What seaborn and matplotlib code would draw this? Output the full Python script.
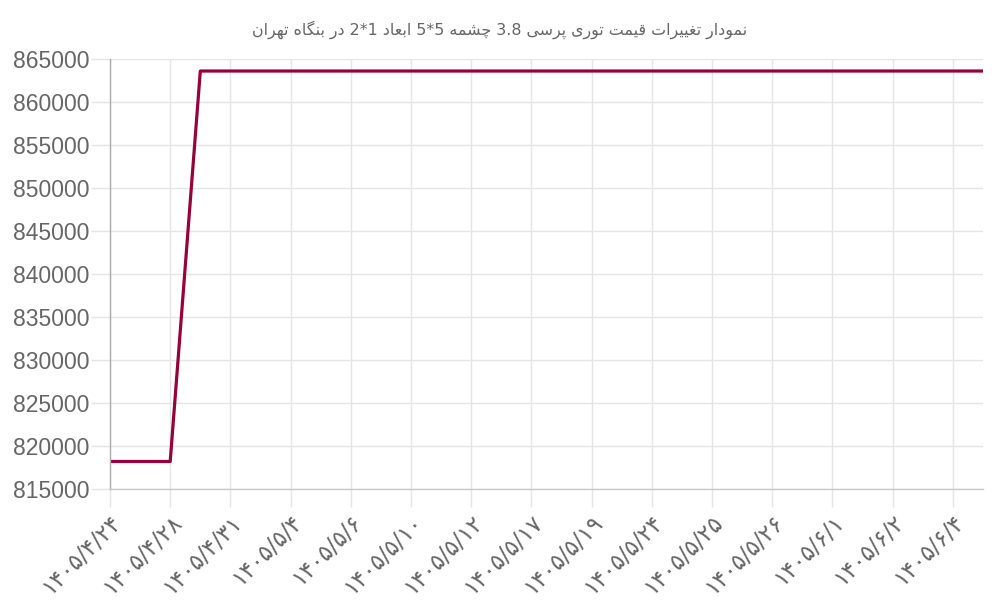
import re
import seaborn as sns
import pandas as pd
import matplotlib.pyplot as plt

# dates (every second one is hidden on the axis, those are guesses)
dates = ['1405/4/24', '1405/4/26', '1405/4/28', '1405/4/30', '1405/4/31', '1405/5/1',
         '1405/5/4', '1405/5/5', '1405/5/6', '1405/5/8', '1405/5/10', '1405/5/11',
         '1405/5/12', '1405/5/14', '1405/5/17', '1405/5/18', '1405/5/19', '1405/5/21',
         '1405/5/24', '1405/5/24', '1405/5/25', '1405/5/25', '1405/5/26', '1405/5/28',
         '1405/6/1', '1405/6/1', '1405/6/2', '1405/6/3', '1405/6/4', '1405/6/5']
prices = [818200, 818200, 818200, 863600, 863600, 863600, 863600, 863600, 863600, 863600,
          863600, 863600, 863600, 863600, 863600, 863600, 863600, 863600, 863600, 863600,
          863600, 863600, 863600, 863600, 863600, 863600, 863600, 863600, 863600, 863600]
y_ticks = list(range(815000, 865001, 5000))
title = 'نمودار تغییرات قیمت توری پرسی 3.8 چشمه 5*5 ابعاد 1*2 در بنگاه تهران'

# isolated, final, initial, medial
FORMS = {
    'ا': ('\uFE8D', '\uFE8E', None, None),
    'د': ('\uFEA9', '\uFEAA', None, None),
    'ر': ('\uFEAD', '\uFEAE', None, None),
    'و': ('\uFEED', '\uFEEE', None, None),
    'ب': ('\uFE8F', '\uFE90', '\uFE91', '\uFE92'),
    'ت': ('\uFE95', '\uFE96', '\uFE97', '\uFE98'),
    'س': ('\uFEB1', '\uFEB2', '\uFEB3', '\uFEB4'),
    'ش': ('\uFEB5', '\uFEB6', '\uFEB7', '\uFEB8'),
    'ع': ('\uFEC9', '\uFECA', '\uFECB', '\uFECC'),
    'غ': ('\uFECD', '\uFECE', '\uFECF', '\uFED0'),
    'ق': ('\uFED5', '\uFED6', '\uFED7', '\uFED8'),
    'م': ('\uFEE1', '\uFEE2', '\uFEE3', '\uFEE4'),
    'ن': ('\uFEE5', '\uFEE6', '\uFEE7', '\uFEE8'),
    'ه': ('\uFEE9', '\uFEEA', '\uFEEB', '\uFEEC'),
    'پ': ('\uFB56', '\uFB57', '\uFB58', '\uFB59'),
    'چ': ('\uFB7A', '\uFB7B', '\uFB7C', '\uFB7D'),
    'گ': ('\uFB92', '\uFB93', '\uFB94', '\uFB95'),
    'ی': ('\uFBFC', '\uFBFD', '\uFBFE', '\uFBFF'),
}


def rtl(text):
    # contextual forms + visual order (numbers stay left-to-right)
    out = []
    for i, ch in enumerate(text):
        if ch not in FORMS:
            out.append(ch)
            continue
        prev = text[i - 1] if i > 0 else ''
        nxt = text[i + 1] if i + 1 < len(text) else ''
        f = FORMS[ch]
        jp = prev in FORMS and FORMS[prev][2] is not None
        jn = nxt in FORMS and f[2] is not None
        out.append(f[3] if jp and jn else f[1] if jp else f[2] if jn else f[0])
    vis = ''.join(out)[::-1]
    return re.sub(r'[0-9.]+', lambda m: m.group(0)[::-1], vis)


fa_digits = str.maketrans('0123456789', '۰۱۲۳۴۵۶۷۸۹')
df = pd.DataFrame({'i': range(len(dates)), 'price': prices})

sns.set_theme(style="whitegrid")
plt.rcParams['font.family'] = ['Liberation Sans', 'DejaVu Sans']

fig = plt.figure(figsize=(10, 6), dpi=100)
ax = fig.add_axes([0.110, 0.185, 0.873, 0.7167])
sns.lineplot(data=df, x='i', y='price', color='#96003c', lw=2.3, ax=ax)

ax.set_xlim(0, len(dates) - 1)
ax.set_ylim(y_ticks[0], y_ticks[-1])
ax.set_yticks(y_ticks)
ax.set_yticklabels([str(v) for v in y_ticks], fontsize=16.5, color='#666666')
shown = list(range(0, len(dates), 2))
ax.set_xticks(shown)
ax.set_xticklabels([dates[k].translate(fa_digits) for k in shown], rotation=45, ha='right',
                   rotation_mode='anchor', fontsize=16.5, color='#666666', family='DejaVu Sans')
ax.set_xlabel('')
ax.set_ylabel('')
ax.grid(True, color='#e5e5e5', lw=1)
ax.tick_params(axis='y', length=14, width=1, color='#e5e5e5', pad=1, left=True)
ax.tick_params(axis='x', length=13, width=1, color='#e5e5e5', pad=2, bottom=True)
for s in ['top', 'right']:
    ax.spines[s].set_visible(False)
ax.spines['left'].set_color('#aaaaaa')
ax.spines['bottom'].set_color('#c8c8c8')
ax.spines['left'].set_linewidth(1)
ax.spines['bottom'].set_linewidth(1)

fig.text(0.5, 1 - 30 / 600, rtl(title), ha='center', va='center', fontsize=11.4,
         color='#666666', family='DejaVu Sans')

fig.savefig('out.png', dpi=100, facecolor='white')
